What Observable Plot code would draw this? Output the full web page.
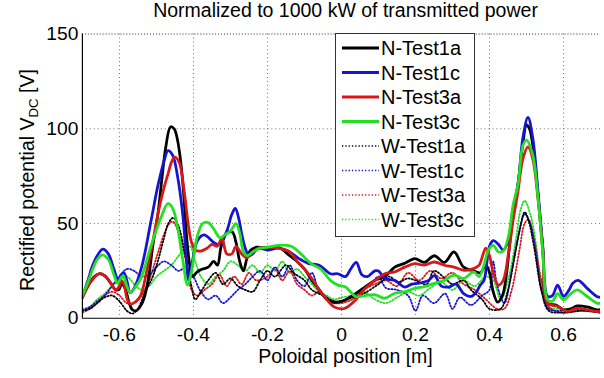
<!DOCTYPE html>
<html>
<head>
<meta charset="utf-8">
<script src="https://cdn.jsdelivr.net/npm/d3@7"></script>
<script src="https://cdn.jsdelivr.net/npm/@observablehq/plot@0.6"></script>
<style>
  body { margin: 0; background: #fff; font-family: "Liberation Sans", Arial, sans-serif; }
  #wrap { position: relative; width: 604px; height: 378px; overflow: hidden; background: #fff; }
  #chart { position: absolute; left: 0; top: 0; }
  .lbl { position: absolute; color: #000; font-size: 19.5px; line-height: 20px; white-space: nowrap; text-align: center; }
  #title { left: 0; top: 0; width: 691px; }
  #xlabel { left: 0; top: 346px; width: 691px; }
  #ylabel { left: -123px; top: 170px; width: 300px; transform: rotate(-90deg); transform-origin: 150px 10px; }
  #ylabel sub { font-size: 0.68em; vertical-align: -0.3em; line-height: 0; }
  #legend { position: absolute; left: 335px; top: 33px; }
</style>
</head>
<body>
<div id="wrap">
  <div id="chart"></div>
  <div class="lbl" id="title">Normalized to 1000 kW of transmitted power</div>
  <div class="lbl" id="xlabel">Poloidal position [m]</div>
  <div class="lbl" id="ylabel">Rectified potential V<sub>DC</sub> [V]</div>
  <div id="legend"></div>
</div>
<script>
// ---------- data (x = poloidal position [m], v = rectified potential [V]) ----------
const seriesNames = ["N-Test1a", "N-Test1c", "N-Test3a", "N-Test3c", "W-Test1a", "W-Test1c", "W-Test3a", "W-Test3c"];
const seriesColors = ["#000000", "#1414d2", "#d81818", "#22e022", "#000000", "#1414d2", "#d81818", "#22e022"];
const xTicks = [-0.6, -0.4, -0.2, 0, 0.2, 0.4, 0.6];
const yTicks = [0, 50, 100, 150];

const nTest1a = [[-0.70,11],[-0.685,17],[-0.67,21.5],[-0.655,23.5],[-0.64,22.5],[-0.625,19],[-0.61,15],[-0.60,15.5],[-0.595,18],[-0.585,16],[-0.575,9],[-0.565,4.5],[-0.555,4],[-0.54,7.5],[-0.53,13],[-0.52,23],[-0.51,38],[-0.496,55],[-0.485,74],[-0.475,90],[-0.462,101],[-0.452,100],[-0.444,95],[-0.434,82],[-0.425,62],[-0.418,42],[-0.41,28],[-0.403,22],[-0.39,24.5],[-0.375,26],[-0.36,27],[-0.345,30],[-0.335,28],[-0.325,38],[-0.31,45],[-0.295,45.5],[-0.285,40],[-0.275,30],[-0.265,25],[-0.255,32],[-0.245,36],[-0.23,37.5],[-0.2,37],[-0.17,37.5],[-0.14,33],[-0.12,30],[-0.1,26],[-0.08,20],[-0.06,15],[-0.04,10],[-0.02,8.5],[0.0,9],[0.01,9.7],[0.038,13],[0.064,16.5],[0.09,20],[0.117,22],[0.144,27],[0.171,29],[0.198,31.5],[0.224,29.5],[0.251,33],[0.278,29.5],[0.304,35],[0.33,27],[0.357,25],[0.375,24],[0.39,28],[0.4,24],[0.41,14],[0.422,8.5],[0.435,12],[0.445,22],[0.455,40],[0.466,58],[0.477,71],[0.49,92],[0.5,102],[0.508,100],[0.517,91],[0.531,65],[0.544,36],[0.557,8],[0.58,7],[0.6,4.5],[0.62,5],[0.637,6.5],[0.664,6],[0.69,4.5],[0.70,4.5]];

const nTest1c = [[-0.70,11.5],[-0.685,20],[-0.674,27],[-0.66,33],[-0.645,36.5],[-0.63,34],[-0.615,26],[-0.603,20],[-0.595,23],[-0.588,24],[-0.58,20],[-0.571,13.5],[-0.56,16],[-0.54,27],[-0.515,51],[-0.496,70],[-0.478,84],[-0.469,88.5],[-0.456,86],[-0.443,75],[-0.429,55],[-0.42,34],[-0.413,20],[-0.403,30],[-0.389,41],[-0.371,44],[-0.345,40],[-0.33,39],[-0.31,46],[-0.296,55],[-0.287,58],[-0.278,53],[-0.27,45],[-0.26,37],[-0.25,33],[-0.24,34],[-0.225,37],[-0.2,36],[-0.17,37],[-0.14,35],[-0.115,31.5],[-0.09,29],[-0.06,28],[-0.03,23.5],[-0.01,23.5],[0.011,22],[0.025,26],[0.04,29.5],[0.055,23],[0.07,22],[0.09,25],[0.1,25],[0.117,21],[0.144,20],[0.171,16.5],[0.19,18],[0.21,18.5],[0.235,20],[0.251,22.5],[0.27,17],[0.29,16.5],[0.31,18],[0.33,13],[0.35,11.5],[0.365,14],[0.375,17.5],[0.385,20],[0.4,38],[0.41,41],[0.424,39],[0.437,36],[0.451,41],[0.464,58],[0.477,70.5],[0.49,95],[0.504,106],[0.517,95],[0.531,67],[0.544,37.5],[0.557,11.5],[0.57,12],[0.584,17.5],[0.6,11.5],[0.615,15],[0.625,18.5],[0.64,20],[0.664,15.8],[0.69,11.5],[0.70,11]];

const nTest3a = [[-0.70,11],[-0.685,17],[-0.67,21],[-0.655,23.5],[-0.64,22.5],[-0.625,19],[-0.61,15],[-0.60,17],[-0.595,20],[-0.588,18],[-0.578,9.5],[-0.57,7.5],[-0.555,9],[-0.544,11.5],[-0.535,17],[-0.524,27],[-0.51,40],[-0.496,55],[-0.482,67],[-0.469,76],[-0.458,83],[-0.45,85],[-0.438,82],[-0.425,67],[-0.413,48],[-0.405,40],[-0.395,36],[-0.38,35.5],[-0.363,37],[-0.35,39],[-0.336,38],[-0.323,42],[-0.31,34],[-0.296,34],[-0.285,38],[-0.27,34],[-0.255,32],[-0.24,35],[-0.22,37],[-0.2,37.5],[-0.17,37],[-0.14,35],[-0.12,30],[-0.1,26],[-0.08,21],[-0.06,15],[-0.04,10],[-0.02,6],[0.0,5],[0.011,5.4],[0.038,9.7],[0.064,15.8],[0.091,20],[0.117,23.5],[0.144,24.5],[0.171,27],[0.198,28.8],[0.224,28],[0.251,29.7],[0.278,28],[0.304,27],[0.331,25.3],[0.357,26.2],[0.372,28],[0.383,34],[0.39,37],[0.4,33],[0.41,24],[0.424,17.5],[0.437,20],[0.451,34],[0.464,52],[0.477,67],[0.49,84],[0.504,90.5],[0.517,84],[0.531,63],[0.544,37],[0.557,8],[0.584,6.3],[0.61,3.6],[0.637,5.4],[0.664,4.5],[0.69,3.6],[0.70,3.6]];

const nTest3c = [[-0.70,12],[-0.685,19],[-0.674,25],[-0.66,31],[-0.647,33.5],[-0.63,31],[-0.615,23],[-0.605,18.5],[-0.597,21],[-0.59,22.5],[-0.58,17],[-0.571,13.5],[-0.555,17],[-0.54,22],[-0.515,38],[-0.487,53.5],[-0.469,60.5],[-0.456,58],[-0.443,48],[-0.429,31],[-0.416,17.5],[-0.405,25],[-0.39,43],[-0.375,50],[-0.36,50.5],[-0.345,47],[-0.328,42.5],[-0.315,44],[-0.3,46],[-0.285,50],[-0.275,45],[-0.265,35],[-0.255,33],[-0.24,35],[-0.22,37],[-0.198,37.5],[-0.17,38.5],[-0.136,38],[-0.11,34],[-0.083,29],[-0.056,26],[-0.03,20],[-0.01,17.5],[0.011,16.5],[0.038,11.5],[0.064,12],[0.091,12.4],[0.117,10.6],[0.144,13.2],[0.171,14],[0.198,15.8],[0.224,16.7],[0.251,18.4],[0.278,20],[0.304,22.8],[0.33,21],[0.357,24.5],[0.372,22],[0.385,28],[0.397,36],[0.41,38.5],[0.424,35],[0.437,35.5],[0.451,43],[0.464,60],[0.477,70.5],[0.49,91],[0.5,94],[0.517,86],[0.531,63.5],[0.544,34],[0.557,9.7],[0.57,9],[0.584,13],[0.6,9.7],[0.62,13],[0.637,15],[0.664,11.5],[0.69,8],[0.70,8]];

const wTest1a = [[-0.70,4],[-0.68,5],[-0.66,8],[-0.64,11],[-0.62,12],[-0.60,9],[-0.58,4],[-0.565,2.5],[-0.55,5],[-0.53,14],[-0.51,22],[-0.495,31],[-0.48,42],[-0.468,50],[-0.455,53],[-0.441,49],[-0.424,35],[-0.406,17.5],[-0.395,10],[-0.38,14],[-0.36,20],[-0.34,24],[-0.32,18],[-0.30,21],[-0.28,17],[-0.26,15],[-0.24,14],[-0.22,20],[-0.20,25],[-0.18,22],[-0.15,28],[-0.13,24],[-0.10,20],[-0.08,15],[-0.05,12],[-0.02,9],[0.0,9],[0.03,11],[0.06,13],[0.10,18],[0.13,22],[0.15,19],[0.18,21],[0.20,20],[0.23,18],[0.25,25],[0.28,21],[0.30,18],[0.33,20],[0.35,15],[0.38,10],[0.40,5],[0.43,5],[0.45,15],[0.47,35],[0.485,50],[0.495,56],[0.505,52],[0.52,38],[0.54,15],[0.56,4],[0.60,3],[0.65,4],[0.70,3]];

const wTest1c = [[-0.70,4],[-0.68,6],[-0.66,9],[-0.64,12],[-0.62,17],[-0.60,22],[-0.58,26],[-0.56,25],[-0.54,22],[-0.52,23],[-0.50,27],[-0.48,30],[-0.46,28],[-0.44,25],[-0.42,27],[-0.40,22],[-0.38,14],[-0.36,10],[-0.34,12],[-0.32,8],[-0.30,11],[-0.28,15],[-0.26,18],[-0.24,22],[-0.22,25],[-0.20,20],[-0.18,27],[-0.16,22],[-0.14,28],[-0.12,20],[-0.10,17],[-0.08,24],[-0.06,14],[-0.04,11],[-0.02,8],[0.0,9],[0.02,11],[0.05,14],[0.08,18],[0.10,22],[0.12,16],[0.15,15],[0.18,12],[0.20,4],[0.22,12],[0.25,8],[0.28,13],[0.30,5],[0.32,11],[0.35,7],[0.38,12],[0.40,15],[0.41,30],[0.42,18],[0.44,8],[0.46,25],[0.48,45],[0.495,55],[0.51,50],[0.525,35],[0.54,15],[0.56,5],[0.60,4],[0.65,5],[0.70,3]];

const wTest3a = [[-0.70,3],[-0.68,5],[-0.66,8],[-0.64,12],[-0.62,14],[-0.60,12],[-0.58,8],[-0.56,8],[-0.54,12],[-0.52,20],[-0.50,32],[-0.48,44],[-0.465,50],[-0.455,51],[-0.44,45],[-0.42,30],[-0.405,15],[-0.39,12],[-0.37,15],[-0.35,18],[-0.33,23],[-0.31,17],[-0.29,22],[-0.27,18],[-0.25,24],[-0.23,20],[-0.20,22],[-0.18,26],[-0.16,20],[-0.14,25],[-0.12,18],[-0.10,15],[-0.08,12],[-0.06,14],[-0.04,10],[-0.02,8],[0.0,8],[0.03,10],[0.06,15],[0.09,18],[0.12,20],[0.15,17],[0.18,24],[0.21,20],[0.24,25],[0.27,21],[0.30,24],[0.33,18],[0.36,15],[0.39,10],[0.42,5],[0.44,5],[0.46,15],[0.48,35],[0.495,50],[0.505,52],[0.52,42],[0.54,20],[0.56,6],[0.60,3],[0.65,4],[0.70,3]];

const wTest3c = [[-0.70,5],[-0.68,6],[-0.66,10],[-0.64,13],[-0.62,17],[-0.60,20],[-0.58,22],[-0.56,18],[-0.54,15],[-0.52,17],[-0.50,22],[-0.48,25],[-0.46,28],[-0.44,33],[-0.425,37],[-0.41,38],[-0.395,30],[-0.38,22],[-0.36,18],[-0.34,22],[-0.32,25],[-0.30,30],[-0.28,28],[-0.26,25],[-0.24,28],[-0.22,24],[-0.20,28],[-0.18,25],[-0.16,30],[-0.14,24],[-0.12,26],[-0.10,22],[-0.08,18],[-0.06,14],[-0.04,12],[-0.02,10],[0.0,11],[0.03,12],[0.06,14],[0.09,10],[0.12,8],[0.15,11],[0.18,14],[0.21,12],[0.24,16],[0.27,19],[0.30,15],[0.33,20],[0.36,17],[0.39,22],[0.41,20],[0.43,10],[0.45,20],[0.47,40],[0.485,58],[0.495,62],[0.51,55],[0.525,40],[0.54,18],[0.56,6],[0.60,5],[0.65,4],[0.70,3]];

const seriesData = [nTest1a, nTest1c, nTest3a, nTest3c, wTest1a, wTest1c, wTest3a, wTest3c];

// ---------- chart ----------
const font = '"Liberation Sans", Arial, sans-serif';
const isDotted = name => name.startsWith("W");
const makeLine = i => Plot.line(seriesData[i], {
  x: d => d[0], y: d => d[1],
  stroke: seriesColors[i],
  strokeWidth: isDotted(seriesNames[i]) ? 1.8 : 2.8,
  strokeDasharray: isDotted(seriesNames[i]) ? "1.3,2" : null,
  curve: "catmull-rom",
  clip: true
});
// dotted (W) series underneath, solid (N) series on top in legend order
const wMarks = [7, 6, 5, 4].map(makeLine);
const nMarks = [0, 1, 2, 3].map(makeLine);

const chart = Plot.plot({
  width: 612,
  height: 378,
  marginLeft: 83,
  marginRight: 4,
  marginTop: 34,
  marginBottom: 56,
  style: { fontFamily: font, fontSize: "19.5px", color: "#000", background: "transparent", overflow: "visible" },
  x: { domain: [-0.7, 0.7], ticks: xTicks, tickFormat: d => String(d), tickSize: 0, tickPadding: 9, label: null },
  y: { domain: [0, 150], ticks: yTicks, tickSize: 0, tickPadding: 4, label: null },
  marks: [
    Plot.ruleX(xTicks, { stroke: "#444", strokeOpacity: 0.8, strokeDasharray: "1,3" }),
    Plot.ruleY(yTicks.filter(v => v > 0 && v < 150), { stroke: "#444", strokeOpacity: 0.8, strokeDasharray: "1,3" }),
    Plot.ruleY([150], { stroke: "#222", strokeDasharray: "1,2" }),
    ...wMarks,
    ...nMarks,
    Plot.ruleX([-0.7], { stroke: "#000", strokeWidth: 1.2 }),
    Plot.ruleY([0], { stroke: "#000", strokeWidth: 1.2 })
  ]
});
document.getElementById("chart").appendChild(chart);

// ---------- legend ----------
const legW = 140, legH = 204;
const ns = "http://www.w3.org/2000/svg";
const leg = document.createElementNS(ns, "svg");
leg.setAttribute("width", legW);
leg.setAttribute("height", legH);
leg.style.display = "block";
const bg = document.createElementNS(ns, "rect");
bg.setAttribute("x", 0.5); bg.setAttribute("y", 0.5);
bg.setAttribute("width", legW - 1); bg.setAttribute("height", legH - 1);
bg.setAttribute("fill", "#fff"); bg.setAttribute("stroke", "#333"); bg.setAttribute("stroke-width", 1);
leg.appendChild(bg);
seriesNames.forEach((name, i) => {
  const cy = 15 + i * 24.5;
  const dotted = isDotted(name);
  const ln = document.createElementNS(ns, "line");
  ln.setAttribute("x1", 7); ln.setAttribute("x2", 44);
  ln.setAttribute("y1", cy); ln.setAttribute("y2", cy);
  ln.setAttribute("stroke", seriesColors[i]);
  ln.setAttribute("stroke-width", dotted ? 1.6 : 2.8);
  if (dotted) ln.setAttribute("stroke-dasharray", "1.3,2");
  leg.appendChild(ln);
  const tx = document.createElementNS(ns, "text");
  tx.setAttribute("x", 46);
  tx.setAttribute("y", cy + 7);
  tx.setAttribute("font-family", font);
  tx.setAttribute("font-size", "20px");
  tx.setAttribute("fill", "#000");
  tx.textContent = name;
  leg.appendChild(tx);
});
document.getElementById("legend").appendChild(leg);
</script>
</body>
</html>
